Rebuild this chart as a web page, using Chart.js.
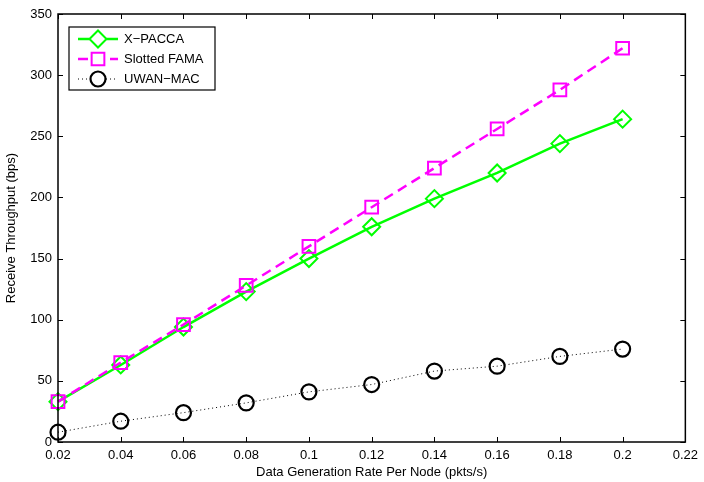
<!DOCTYPE html>
<html>
<head>
<meta charset="utf-8">
<script src="https://cdn.jsdelivr.net/npm/chart.js@4.4.0/dist/chart.umd.min.js"></script>
<style>
  html, body { margin: 0; padding: 0; background: #fff; }
  #wrap { width: 704px; height: 482px; }
</style>
</head>
<body>
<div id="wrap"><canvas id="chart" width="704" height="482"></canvas></div>
<script>
const FONT = { family: 'Liberation Sans, Arial, Helvetica, sans-serif', size: 13 };

// ── Datos ──
const rates     = [0.02, 0.04, 0.06, 0.08, 0.10, 0.12, 0.14, 0.16, 0.18, 0.20];
const xPacca    = [33, 63, 94, 123, 150, 176, 199, 220, 244, 264];
const slotFama  = [33, 65, 96, 128, 160, 192, 224, 256, 288, 322];
const uwanMac   = [8, 17, 24, 32, 41, 47, 58, 62, 70, 76];
const seriesNames = ['X\u2212PACCA', 'Slotted FAMA', 'UWAN\u2212MAC'];
const xTicks = { min: 0.02, max: 0.22, step: 0.02 };
const yTicks = { min: 0, max: 350, step: 50 };

const pts = vals => vals.map((v, i) => ({ x: rates[i], y: v }));

// ── Caja + ticks hacia dentro (estilo MATLAB) ──
const boxTicks = {
    id: 'boxTicks',
    afterDatasetsDraw(chart) {
        const { ctx, chartArea: a, scales: { x, y } } = chart;
        const L = 5;
        ctx.save();
        ctx.strokeStyle = '#000';
        ctx.lineWidth = 1;
        ctx.beginPath();
        x.ticks.forEach(t => {
            const px = Math.round(x.getPixelForValue(t.value)) + 0.5;
            ctx.moveTo(px, a.bottom); ctx.lineTo(px, a.bottom - L);
            ctx.moveTo(px, a.top);    ctx.lineTo(px, a.top + L);
        });
        y.ticks.forEach(t => {
            const py = Math.round(y.getPixelForValue(t.value)) + 0.5;
            ctx.moveTo(a.left, py);  ctx.lineTo(a.left + L, py);
            ctx.moveTo(a.right, py); ctx.lineTo(a.right - L, py);
        });
        ctx.stroke();
        ctx.lineWidth = 1.5;
        ctx.strokeRect(a.left, a.top, a.right - a.left, a.bottom - a.top);
        ctx.restore();
    }
};

// ── Leyenda con línea + marcador ──
const matLegend = {
    id: 'matLegend',
    afterDraw(chart) {
        const { ctx, chartArea: a } = chart;
        const bx = a.left + 11, by = a.top + 13, bw = 146, bh = 63;
        ctx.save();
        ctx.fillStyle = '#fff';
        ctx.fillRect(bx, by, bw, bh);
        ctx.strokeStyle = '#000';
        ctx.lineWidth = 1.2;
        ctx.strokeRect(bx, by, bw, bh);
        chart.data.datasets.forEach((ds, i) => {
            const cy = by + 12 + i * 20;
            const x0 = bx + 9, x1 = bx + 49, mx = (x0 + x1) / 2;
            ctx.strokeStyle = ds.borderColor;
            ctx.lineWidth = ds.borderWidth;
            ctx.setLineDash(ds.borderDash || []);
            ctx.beginPath(); ctx.moveTo(x0, cy); ctx.lineTo(x1, cy); ctx.stroke();
            ctx.setLineDash([]);
            ctx.fillStyle = '#fff';
            ctx.fillRect(mx - ds.pointRadius, cy - ds.pointRadius, ds.pointRadius * 2, ds.pointRadius * 2);
            ctx.fillStyle = 'rgba(0,0,0,0)';
            ctx.lineWidth = ds.pointBorderWidth;
            Chart.helpers.drawPoint(ctx, {
                pointStyle: ds.pointStyle, radius: ds.pointRadius, rotation: 0, borderWidth: ds.pointBorderWidth
            }, mx, cy);
            ctx.fillStyle = '#000';
            ctx.font = `${FONT.size}px ${FONT.family}`;
            ctx.textBaseline = 'middle';
            ctx.fillText(ds.label, bx + 55, cy);
        });
        ctx.restore();
    }
};

new Chart(document.getElementById('chart'), {
    type: 'line',
    data: {
        datasets: [
            {
                label: seriesNames[0], data: pts(xPacca), order: 2,
                borderColor: '#00FF00', borderWidth: 2.5,
                pointStyle: 'rectRot', pointRadius: 8.5, pointBorderWidth: 2,
                pointBorderColor: '#00FF00', pointBackgroundColor: 'rgba(0,0,0,0)',
                tension: 0, clip: false
            },
            {
                label: seriesNames[1], data: pts(slotFama), order: 1,
                borderColor: '#FF00FF', borderWidth: 2.5, borderDash: [10, 6],
                pointStyle: 'rect', pointRadius: 9, pointBorderWidth: 2,
                pointBorderColor: '#FF00FF', pointBackgroundColor: 'rgba(0,0,0,0)',
                tension: 0, clip: false
            },
            {
                label: seriesNames[2], data: pts(uwanMac), order: 0,
                borderColor: '#000000', borderWidth: 1, borderDash: [1, 3],
                pointStyle: 'circle', pointRadius: 7.5, pointBorderWidth: 2.2,
                pointBorderColor: '#000000', pointBackgroundColor: 'rgba(0,0,0,0)',
                tension: 0, clip: false
            }
        ]
    },
    options: {
        responsive: false,
        animation: false,
        layout: { padding: { top: 14, right: 17, left: 0, bottom: 0 } },
        plugins: { legend: { display: false }, tooltip: { enabled: false } },
        scales: {
            x: {
                type: 'linear', min: xTicks.min, max: xTicks.max,
                afterFit: s => { s.height = 40; },
                grid: { display: false, drawTicks: false },
                border: { display: false },
                ticks: {
                    stepSize: xTicks.step, font: FONT, color: '#000', padding: 6,
                    maxRotation: 0, autoSkip: false,
                    callback: v => String(parseFloat(v.toFixed(2)))
                },
                title: {
                    display: true, text: 'Data Generation Rate Per Node (pkts/s)',
                    font: FONT, color: '#000', padding: { top: 0, bottom: 2 }
                }
            },
            y: {
                type: 'linear', min: yTicks.min, max: yTicks.max,
                afterFit: s => { s.width = 58; },
                grid: { display: false, drawTicks: false },
                border: { display: false },
                ticks: { stepSize: yTicks.step, font: FONT, color: '#000', padding: 6 },
                title: {
                    display: true, text: 'Receive Throughput (bps)',
                    font: FONT, color: '#000', padding: { top: 4, bottom: 0 }
                }
            }
        }
    },
    plugins: [boxTicks, matLegend]
});
</script>
</body>
</html>
